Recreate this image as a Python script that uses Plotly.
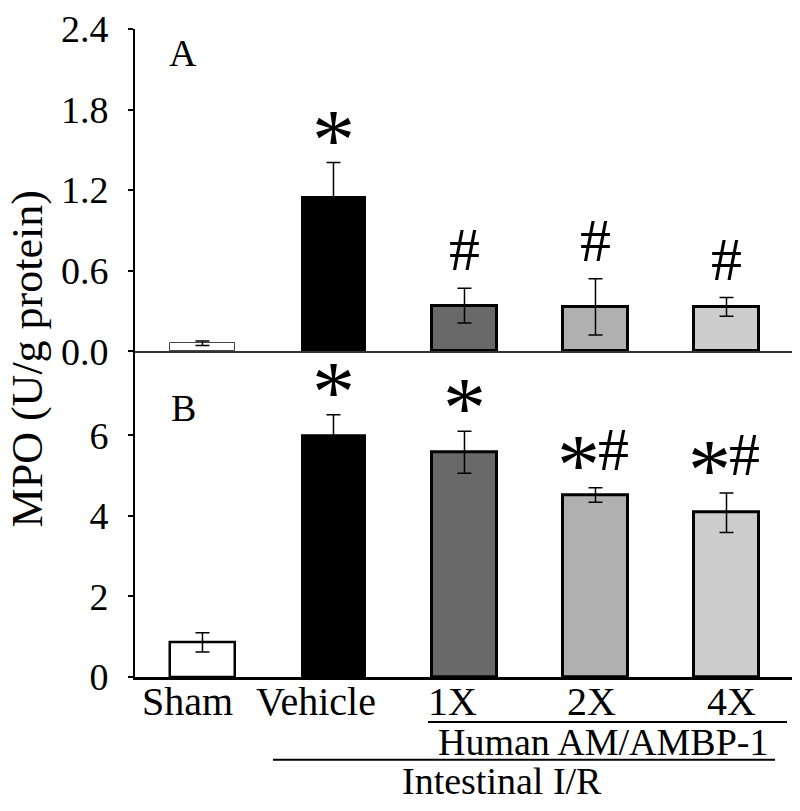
import plotly.graph_objects as go

# ---------------- data ----------------
groups = ["Sham", "Vehicle", "1X", "2X", "4X"]
a_mean = [0.06, 1.16, 0.34, 0.33, 0.33]
a_err = [0.017, 0.245, 0.13, 0.21, 0.07]
b_mean = [0.86, 6.02, 5.58, 4.52, 4.08]
b_err = [0.24, 0.49, 0.52, 0.18, 0.49]
a_sig = ["", "*", "#", "#", "#"]
b_sig = ["", "*", "*", "*#", "*#"]
a_ticks = [0.0, 0.6, 1.2, 1.8, 2.4]
b_ticks = [0, 2, 4, 6]
bar_colors = ["#ffffff", "#000000", "#696969", "#b0b0b0", "#cdcdcd"]
a_line_w = [1, 0, 3, 3, 3]
b_line_w = [2.5, 0, 3, 3, 3]
a_line_c = ["#444444", "#000000", "#000000", "#000000", "#000000"]

FONT = "Liberation Serif"
W, H = 800, 811
L, R, T, B = 135, 792, 20, 677      # plot area in pixels
A_BOTTOM_PX = 346.7
split = (B - A_BOTTOM_PX) / (B - T)


def px_x(px):
    return (px - L) / (R - L)


def px_y(py):
    return (B - py) / (B - T)


x = list(range(len(groups)))

fig = go.Figure()
fig.add_trace(go.Bar(
    x=x, y=a_mean, width=0.5, xaxis="x", yaxis="y",
    marker=dict(color=bar_colors, line=dict(color=a_line_c, width=a_line_w)),
    error_y=dict(type="data", array=a_err, visible=True, color="black", thickness=1.5, width=7),
    showlegend=False,
))
fig.add_trace(go.Bar(
    x=x, y=b_mean, width=0.5, xaxis="x2", yaxis="y2",
    marker=dict(color=bar_colors, line=dict(color="black", width=b_line_w)),
    error_y=dict(type="data", array=b_err, visible=True, color="black", thickness=1.5, width=7),
    showlegend=False,
))

b_px_per_unit = 40.83
b_range_top = (B - A_BOTTOM_PX) / b_px_per_unit

xr = [-0.515, 4.5]
tickfont = dict(family=FONT, size=38, color="black")
fig.update_layout(
    width=W, height=H,
    margin=dict(l=L, r=W - R, t=T, b=H - B),
    plot_bgcolor="white", paper_bgcolor="white",
    bargap=0,
    xaxis=dict(domain=[0, 1], range=xr, anchor="y", showticklabels=False, ticks="",
               showline=True, linecolor="#333333", linewidth=2, showgrid=False, zeroline=False),
    xaxis2=dict(domain=[0, 1], range=xr, anchor="y2", showticklabels=False, ticks="",
                showline=True, linecolor="black", linewidth=3, showgrid=False, zeroline=False),
    yaxis=dict(domain=[split, 1], range=[0, 2.4002], anchor="x", tickvals=a_ticks,
               ticktext=[f"{v:.1f}" for v in a_ticks], ticks="outside", ticklen=5, tickwidth=1.5,
               tickcolor="black", showline=True, linecolor="black", linewidth=2,
               showgrid=False, zeroline=False, tickfont=tickfont, ticklabelstandoff=12,
               ticklabeloverflow="allow"),
    yaxis2=dict(domain=[0, split], range=[0, b_range_top], anchor="x2", tickvals=b_ticks,
                ticktext=[str(v) for v in b_ticks], ticks="outside", ticklen=5, tickwidth=1.5,
                tickcolor="black", showline=True, linecolor="black", linewidth=2,
                showgrid=False, zeroline=False, tickfont=tickfont, ticklabelstandoff=12,
                ticklabeloverflow="allow"),
)

ann = []
letter_font = dict(family=FONT, size=38, color="black")
ann.append(dict(text="A", x=px_x(183), y=px_y(44), xref="paper", yref="paper",
                xanchor="center", yanchor="middle", showarrow=False, font=letter_font))
ann.append(dict(text="B", x=px_x(183), y=px_y(404), xref="paper", yref="paper",
                xanchor="center", yanchor="middle", showarrow=False, font=letter_font))


def add_sig(sigs, means, errs, yref):
    for i, s in enumerate(sigs):
        if not s:
            continue
        top = means[i] + errs[i]
        chars = list(s)
        shifts = [0] if len(chars) == 1 else [-17, 18]
        for c, xs in zip(chars, shifts):
            if c == "*":
                ann.append(dict(text="*", x=i, y=top, xref="x", yref=yref, xanchor="center",
                                yanchor="bottom", xshift=xs, yshift=-27, showarrow=False,
                                font=dict(family=FONT, size=86, color="black")))
            else:
                ann.append(dict(text="#", x=i, y=top, xref="x", yref=yref, xanchor="center",
                                yanchor="bottom", xshift=xs, yshift=3, showarrow=False,
                                font=dict(family=FONT, size=62, color="black")))


add_sig(a_sig, a_mean, a_err, "y")
add_sig(b_sig, b_mean, b_err, "y2")

label_px = [187.5, 316, 452, 591, 731]
lab_font = dict(family=FONT, size=40, color="black")
for g, lx in zip(groups, label_px):
    ann.append(dict(text=g, x=px_x(lx), y=px_y(702), xref="paper", yref="paper",
                    xanchor="center", yanchor="middle", showarrow=False, borderpad=0,
                    font=lab_font))
ann.append(dict(text="Human AM/AMBP-1", x=px_x(602.5), y=px_y(742.5), xref="paper", yref="paper",
                xanchor="center", yanchor="middle", showarrow=False, borderpad=0,
                font=dict(family=FONT, size=38, color="black")))
ann.append(dict(text="Intestinal I/R", x=px_x(502), y=px_y(782.5), xref="paper", yref="paper",
                xanchor="center", yanchor="middle", showarrow=False, borderpad=0,
                font=dict(family=FONT, size=38, color="black")))
ann.append(dict(text="MPO (U/g protein)", x=px_x(27), y=px_y(355), xref="paper", yref="paper",
                xanchor="center", yanchor="middle", textangle=-90, showarrow=False,
                font=dict(family=FONT, size=44, color="black")))
fig.update_layout(annotations=ann)

shapes = [
    dict(type="line", xref="paper", yref="paper", x0=px_x(428), x1=px_x(787),
         y0=px_y(722.7), y1=px_y(722.7), line=dict(color="black", width=2)),
    dict(type="line", xref="paper", yref="paper", x0=px_x(273), x1=px_x(775),
         y0=px_y(761), y1=px_y(761), line=dict(color="black", width=2)),
]
fig.update_layout(shapes=shapes)

fig.write_html("out.html", config={"displayModeBar": False},
               post_script="document.body.style.margin='0';")
